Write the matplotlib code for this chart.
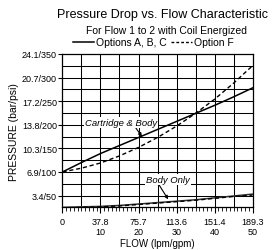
import matplotlib
matplotlib.use('Agg')
import matplotlib.pyplot as plt
from matplotlib.lines import Line2D

plt.rcParams['font.family'] = ['Liberation Sans', 'DejaVu Sans']

# flow in gpm, pressure in psi
flow = [0, 5, 10, 15, 20, 25, 30, 35, 40, 45, 50]
cart_abc = [100, 120, 139, 156, 173, 190, 207, 224, 241, 259, 278]
cart_f = [100, 108, 119, 134, 152, 173, 197, 224, 254, 288, 325]
body_abc = [25, 26, 27, 29, 32, 35, 38, 41, 45, 49, 53]
body_f = [24, 25, 26, 28, 31, 34, 37, 40, 44, 48, 51]

x_ticks = [0, 10, 20, 30, 40, 50]
x_labels = ['0\n ', '37.8\n10', '75.7\n20', '113.6\n30', '151.4\n40', '189.3\n50']
y_ticks = [50, 100, 150, 200, 250, 300, 350]
y_labels = ['3.4/50', '6.9/100', '10.3/150', '13.8/200', '17.2/250', '20.7/300', '24.1/350']

fig = plt.figure(figsize=(2.77, 2.51), dpi=100)
ax = fig.add_axes([0.2256, 0.170, 0.686, 0.611])

ax.plot(flow, cart_abc, color='black', lw=1.1, zorder=3)
ax.plot(flow, cart_f, color='black', lw=1.0, ls=(0, (3, 2)), zorder=3)
ax.plot(flow, body_abc, color='#333333', lw=1.1, zorder=3)
ax.plot(flow, body_f, color='black', lw=1.0, ls=(0, (3, 2)), zorder=3)

ax.set_xlim(0, 50)
ax.set_ylim(25, 350)

# grid every 5 gpm / 25 psi
for g in range(5, 50, 5):
    ax.axvline(g, color='black', lw=0.75, zorder=1)
for g in range(50, 350, 25):
    ax.axhline(g, color='black', lw=0.75, zorder=1)

ax.set_xticks(x_ticks)
ax.set_xticklabels(x_labels, fontsize=6.5, linespacing=1.1)
ax.set_xticks(range(0, 51), minor=True)
ax.set_yticks(y_ticks)
ax.set_yticklabels(y_labels, fontsize=6.5)

ax.tick_params(axis='x', which='major', direction='out', length=4, width=0.8, pad=3)
ax.tick_params(axis='x', which='minor', direction='out', length=3, width=0.6)
ax.tick_params(axis='y', which='major', direction='out', length=3, width=0.8, pad=1)
for s in ax.spines.values():
    s.set_linewidth(0.9)

ax.set_xlabel('FLOW (lpm/gpm)', fontsize=7, labelpad=1.5)
ax.set_ylabel('PRESSURE (bar/psi)', fontsize=7.5, labelpad=2)

bbox = dict(facecolor='white', edgecolor='none', pad=0.6)
ax.annotate('Cartridge & Body', xy=(20.9, 175), xytext=(15.5, 205),
            fontsize=6.8, style='italic', ha='center', va='center', bbox=bbox,
            arrowprops=dict(arrowstyle='-|>', color='black', lw=0.8, relpos=(0.69, 0),
                            mutation_scale=5, shrinkA=0, shrinkB=0))
ax.annotate('Body Only', xy=(27.8, 42), xytext=(27.8, 84),
            fontsize=6.8, style='italic', ha='center', va='center', bbox=bbox,
            arrowprops=dict(arrowstyle='-|>', color='black', lw=0.8, relpos=(0.28, 0),
                            mutation_scale=5, shrinkA=0, shrinkB=0))

fig.text(0.587, 0.94, 'Pressure Drop vs. Flow Characteristic', fontsize=9,
         ha='center', va='center')
fig.text(0.6, 0.878, 'For Flow 1 to 2 with Coil Energized', fontsize=7.5,
         ha='center', va='center')
handles = [Line2D([], [], color='black', lw=1.1),
           Line2D([], [], color='black', lw=1.0, ls=(0, (2, 1.5)))]
fig.legend(handles, ['Options A, B, C', 'Option F'], loc='center',
           bbox_to_anchor=(0.553, 0.827), ncol=2, frameon=False, fontsize=7.5,
           handlelength=2.0, handletextpad=0.2, columnspacing=0.4,
           borderpad=0, borderaxespad=0)

fig.savefig('out.png', dpi=100)
